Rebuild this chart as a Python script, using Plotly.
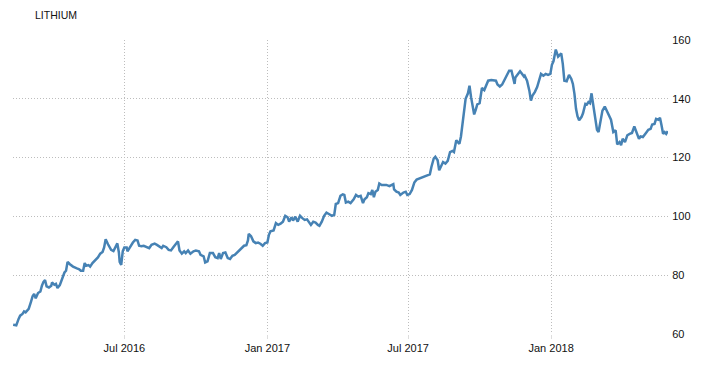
import plotly.graph_objects as go

dates = [
    "2016-02-09", "2016-02-13", "2016-02-16", "2016-02-18", "2016-02-21", "2016-02-23", "2016-02-25", "2016-02-28", "2016-02-29",
    "2016-03-03", "2016-03-05", "2016-03-07", "2016-03-09", "2016-03-12", "2016-03-15", "2016-03-17", "2016-03-19", "2016-03-21",
    "2016-03-23", "2016-03-26", "2016-03-29", "2016-03-30",
    "2016-04-02", "2016-04-04", "2016-04-06", "2016-04-09", "2016-04-12", "2016-04-15", "2016-04-17", "2016-04-19", "2016-04-22", "2016-04-26",
    "2016-05-01", "2016-05-04", "2016-05-06", "2016-05-09", "2016-05-11", "2016-05-13", "2016-05-16", "2016-05-18", "2016-05-21",
    "2016-05-24", "2016-05-28", "2016-05-31",
    "2016-06-03", "2016-06-05", "2016-06-07", "2016-06-10", "2016-06-14", "2016-06-17", "2016-06-19", "2016-06-22", "2016-06-24",
    "2016-06-25", "2016-06-27", "2016-06-29",
    "2016-07-01", "2016-07-04", "2016-07-05", "2016-07-07", "2016-07-08", "2016-07-12", "2016-07-15", "2016-07-18", "2016-07-20",
    "2016-07-23", "2016-07-26", "2016-07-30",
    "2016-08-02", "2016-08-05", "2016-08-09", "2016-08-12", "2016-08-15", "2016-08-18", "2016-08-20", "2016-08-24", "2016-08-27", "2016-08-30",
    "2016-09-02", "2016-09-06", "2016-09-08", "2016-09-10", "2016-09-13", "2016-09-16", "2016-09-18", "2016-09-21", "2016-09-24", "2016-09-28",
    "2016-10-01", "2016-10-05", "2016-10-07", "2016-10-11", "2016-10-13", "2016-10-16", "2016-10-19", "2016-10-23", "2016-10-26",
    "2016-10-29", "2016-10-31",
    "2016-11-02", "2016-11-05", "2016-11-08", "2016-11-11", "2016-11-14", "2016-11-17", "2016-11-20", "2016-11-23", "2016-11-26", "2016-11-29",
    "2016-12-02", "2016-12-05", "2016-12-07", "2016-12-08", "2016-12-11", "2016-12-14", "2016-12-17", "2016-12-20", "2016-12-23",
    "2016-12-26", "2016-12-29",
    "2017-01-01", "2017-01-03", "2017-01-05", "2017-01-09", "2017-01-12", "2017-01-15", "2017-01-18", "2017-01-21", "2017-01-24",
    "2017-01-27", "2017-01-29",
    "2017-02-01", "2017-02-03", "2017-02-06", "2017-02-09", "2017-02-12", "2017-02-15", "2017-02-18", "2017-02-21", "2017-02-24", "2017-02-26",
    "2017-03-01", "2017-03-04", "2017-03-07", "2017-03-09", "2017-03-12", "2017-03-15", "2017-03-18", "2017-03-22", "2017-03-25",
    "2017-03-28", "2017-03-30",
    "2017-04-02", "2017-04-05", "2017-04-08", "2017-04-10", "2017-04-12", "2017-04-15", "2017-04-18", "2017-04-22", "2017-04-25", "2017-04-28",
    "2017-05-01", "2017-05-04", "2017-05-06", "2017-05-09", "2017-05-11", "2017-05-14", "2017-05-16", "2017-05-18", "2017-05-20",
    "2017-05-23", "2017-05-25", "2017-05-28", "2017-05-31",
    "2017-06-03", "2017-06-07", "2017-06-10", "2017-06-12", "2017-06-13", "2017-06-16", "2017-06-19", "2017-06-21", "2017-06-25",
    "2017-06-28", "2017-06-30",
    "2017-07-03", "2017-07-06", "2017-07-09", "2017-07-12", "2017-07-16", "2017-07-21", "2017-07-25", "2017-07-29", "2017-07-31",
    "2017-08-03", "2017-08-05", "2017-08-08", "2017-08-10", "2017-08-12", "2017-08-15", "2017-08-18", "2017-08-21", "2017-08-24",
    "2017-08-27", "2017-08-29",
    "2017-09-01", "2017-09-03", "2017-09-05", "2017-09-07", "2017-09-09", "2017-09-11", "2017-09-13", "2017-09-16", "2017-09-18",
    "2017-09-20", "2017-09-22", "2017-09-24", "2017-09-26", "2017-09-28",
    "2017-10-01", "2017-10-03", "2017-10-04", "2017-10-07", "2017-10-10", "2017-10-12", "2017-10-16", "2017-10-19", "2017-10-22",
    "2017-10-24", "2017-10-27", "2017-10-30",
    "2017-11-03", "2017-11-05", "2017-11-08", "2017-11-11", "2017-11-13", "2017-11-15", "2017-11-16", "2017-11-19", "2017-11-22",
    "2017-11-24", "2017-11-27", "2017-11-28",
    "2017-12-01", "2017-12-04", "2017-12-06", "2017-12-08", "2017-12-11", "2017-12-14", "2017-12-17", "2017-12-19", "2017-12-22",
    "2017-12-25", "2017-12-28", "2017-12-31",
    "2018-01-02", "2018-01-04", "2018-01-07", "2018-01-10", "2018-01-14", "2018-01-16", "2018-01-18", "2018-01-21", "2018-01-24",
    "2018-01-27", "2018-01-29", "2018-01-31",
    "2018-02-02", "2018-02-04", "2018-02-06", "2018-02-09", "2018-02-11", "2018-02-14", "2018-02-16", "2018-02-18", "2018-02-20",
    "2018-02-22", "2018-02-23", "2018-02-25", "2018-02-27",
    "2018-03-01", "2018-03-03", "2018-03-05", "2018-03-08", "2018-03-11", "2018-03-14", "2018-03-16", "2018-03-19", "2018-03-22",
    "2018-03-25", "2018-03-27", "2018-03-30",
    "2018-04-01", "2018-04-03", "2018-04-06", "2018-04-09", "2018-04-12", "2018-04-15", "2018-04-18", "2018-04-21", "2018-04-24",
    "2018-04-26", "2018-04-29",
    "2018-05-03", "2018-05-06", "2018-05-09", "2018-05-11", "2018-05-14", "2018-05-16", "2018-05-19", "2018-05-21", "2018-05-23",
    "2018-05-25", "2018-05-27", "2018-05-29", "2018-05-31",
]

prices = [
    63.1, 62.9, 65.1, 66.2, 66.8, 67.6, 67.3, 68.2, 68.5,
    71.0, 72.8, 73.6, 72.1, 73.9, 74.4, 76.4, 77.7, 78.3,
    76.2, 75.8, 76.4, 77.5,
    76.7, 77.0, 75.6, 76.6, 78.6, 80.9, 81.5, 84.5, 83.7, 82.9,
    82.3, 82.0, 81.5, 81.5, 84.1, 83.2, 83.4, 82.9, 84.1,
    84.9, 86.0, 87.3,
    87.9, 89.4, 92.2, 90.5, 88.6, 88.2, 89.4, 90.8, 87.7,
    84.5, 83.5, 88.2,
    89.4, 89.4, 88.1, 89.0, 89.2, 91.1, 92.0, 91.8, 90.0,
    89.8, 90.0, 89.5,
    89.2, 90.3, 90.7, 90.3, 89.8, 89.2, 90.0, 89.5, 88.6, 88.4,
    89.5, 90.9, 91.5, 88.4, 87.3, 88.1, 87.5, 88.4, 87.3, 88.1,
    88.4, 88.1, 86.9, 86.4, 84.3, 84.7, 87.5, 87.5, 86.1,
    85.8, 87.5,
    85.5, 87.5, 87.7, 85.8, 85.5, 86.6, 86.9, 87.7, 88.4, 89.2,
    90.0, 90.2, 91.8, 94.0, 93.2, 91.5, 90.9, 91.1, 90.7,
    90.0, 90.9,
    91.1, 93.7, 94.9, 95.2, 97.7, 97.1, 97.5, 98.2, 100.2,
    99.7, 98.2,
    99.7, 98.6, 99.9, 98.2, 100.2, 99.4, 98.8, 99.0, 97.9, 97.1,
    98.2, 97.9, 97.1, 96.8, 98.2, 100.2, 101.3, 100.5, 100.2,
    100.5, 104.2,
    104.5, 107.0, 107.5, 107.3, 104.7, 105.0, 104.5, 105.8, 107.3, 106.7,
    107.0, 104.5, 105.8, 106.5, 107.9, 107.6, 109.0, 106.5, 108.4,
    109.0, 111.2, 110.7, 110.7,
    110.7, 110.3, 110.7, 111.0, 109.2, 108.4, 108.1, 107.3, 108.1,
    108.4, 107.3,
    107.6, 109.0, 111.5, 112.5, 112.9, 113.4, 114.0, 114.3, 116.8,
    119.7, 120.3, 119.1, 115.7, 117.1, 118.5, 118.0, 118.9, 121.9,
    122.3, 121.9,
    125.9, 125.3, 124.7, 127.2, 131.0, 136.0, 140.0, 141.9, 144.5,
    140.6, 137.2, 134.7, 136.3, 138.1,
    138.5, 141.9, 143.7, 143.0, 144.9, 146.2, 146.4, 146.4, 146.2,
    144.9, 144.2, 144.9,
    146.8, 148.2, 149.6, 149.6, 146.8, 145.1, 147.3, 148.2, 149.4,
    148.7, 147.6, 147.9,
    146.2, 142.8, 139.4, 141.1, 142.3, 144.0, 147.1, 148.5, 147.9,
    148.5, 148.2, 148.5,
    151.6, 152.8, 156.8, 154.4, 155.5, 151.9, 146.2, 146.0, 148.2,
    146.8, 145.1, 141.7,
    136.6, 134.0, 132.7, 133.8, 135.1, 138.3, 138.1, 138.9, 138.5,
    141.9, 140.0, 136.6, 132.7,
    129.5, 128.7, 131.5, 136.0, 137.4, 135.8, 134.4, 132.9, 128.7,
    129.3, 124.5, 125.3,
    124.2, 126.4, 125.3, 127.6, 128.1, 128.4, 130.6, 128.7, 126.4,
    127.2, 127.0,
    128.4, 129.5, 129.8, 131.3, 131.5, 133.2, 132.9, 133.6, 131.0,
    128.1, 128.7, 128.1, 129.0,
]

tick_dates = ["2016-07-01", "2017-01-01", "2017-07-01", "2018-01-01"]
tick_labels = ["Jul 2016", "Jan 2017", "Jul 2017", "Jan 2018"]
y_ticks = [60, 80, 100, 120, 140, 160]

FONT = "Liberation Sans, Arial, sans-serif"
GRID = "#bdbdbd"

fig = go.Figure(
    go.Scatter(
        x=dates,
        y=prices,
        mode="lines",
        line=dict(color="#4682b4", width=2.5),
        hoverinfo="x+y",
    )
)

# the page body adds an 8px offset; margins compensate for it
fig.update_layout(
    width=703,
    height=369,
    margin=dict(l=5, r=43, t=32, b=43),
    paper_bgcolor="white",
    plot_bgcolor="white",
    showlegend=False,
    title=dict(
        text="LITHIUM",
        x=27 / 703,
        xanchor="left",
        xref="container",
        y=1 - 7 / 369,
        yanchor="middle",
        yref="container",
        font=dict(family=FONT, size=10.5, color="#111111"),
    ),
    xaxis=dict(
        type="date",
        range=["2016-02-08 19:00", "2018-05-31 08:00"],
        tickvals=tick_dates,
        ticktext=tick_labels,
        showgrid=True,
        gridcolor=GRID,
        griddash="1px,2px",
        gridwidth=1,
        ticks="outside",
        ticklen=4,
        tickcolor="#dddddd",
        showline=False,
        zeroline=False,
        tickfont=dict(family=FONT, size=11, color="#111111"),
    ),
    yaxis=dict(
        side="right",
        range=[59.95, 160.05],
        tickvals=y_ticks,
        showgrid=True,
        gridcolor=GRID,
        griddash="1px,2px",
        gridwidth=1,
        ticks="outside",
        ticklen=1,
        tickcolor="rgba(0,0,0,0)",
        showline=False,
        zeroline=False,
        tickfont=dict(family=FONT, size=11, color="#111111"),
    ),
)

fig.write_html("out.html")
